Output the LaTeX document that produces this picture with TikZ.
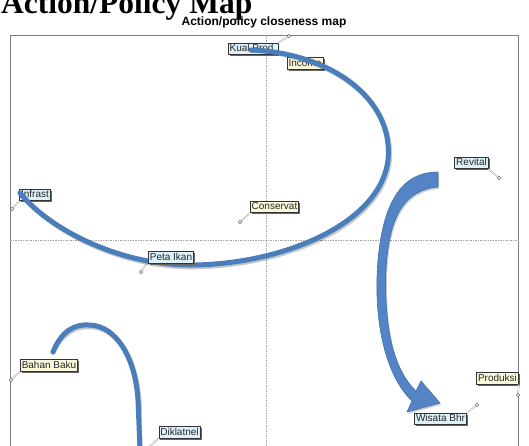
\documentclass[tikz,border=0pt]{standalone}
\usepackage{fontspec}
\setmainfont{Liberation Serif}
\setsansfont{Liberation Sans}
\usetikzlibrary{shadows}
\definecolor{curveblue}{HTML}{4A7EBB}
\definecolor{arrowblue}{HTML}{5584C6}
\definecolor{arrowedge}{HTML}{3F6FB0}
\definecolor{lblue}{HTML}{DDF1FB}
\definecolor{lyellow}{HTML}{FBF9DC}
\begin{document}
\begin{tikzpicture}[x=1pt,y=-1pt,
  lbl/.style={draw=black!80, line width=0.6pt, font=\fontsize{10}{10}\sffamily, text=black!85,
    inner xsep=1.5pt, inner ysep=1pt, text height=7.5pt, text depth=2pt,
    drop shadow={shadow xshift=1.6pt, shadow yshift=-1.6pt, fill=black!60, opacity=1}},
  bluelbl/.style={lbl, fill=lblue},
  yellowlbl/.style={lbl, fill=lyellow},
  marker/.style={circle, draw=black!60, fill=white, line width=0.6pt, inner sep=0pt, minimum size=3.5pt},
  leader/.style={draw=black!40, line width=0.4pt, double=white, double distance=0.7pt},
  curve/.style={draw=curveblue, line width=5pt, line cap=round},
  curveshadow/.style={draw=black, opacity=0.22, line width=5pt, line cap=round},
  gridline/.style={draw=black!35, line width=0.6pt, dash pattern=on 1.5pt off 1pt},
  frame/.style={draw=black!50, line width=0.8pt}
]
\clip (0,0) rectangle (529,445);
\fill[white] (0,0) rectangle (529,445);

% titles
\node[anchor=base west, font=\fontsize{31.5}{31.5}\selectfont\bfseries, inner sep=0pt] (title) at (1,13) {Action/Policy Map};
\node[anchor=base, font=\fontsize{12}{12}\sffamily\bfseries, inner sep=0pt] (subtitle) at (264,25) {Action/policy closeness map};

% frame and cross lines
\draw[frame] (10,35) rectangle (518,470);
\draw[gridline] (266,35) -- (266,470);
\draw[gridline] (10,240) -- (518,240);

% markers
\node[marker] (mkual) at (289,36) {};
\node[marker] (minfra) at (12,209) {};
\node[marker] (mcons) at (240,222) {};
\node[marker] (mpeta) at (141,272) {};
\node[marker] (mrevi) at (499,178) {};
\node[marker] (mprod) at (518,395) {};
\node[marker] (mwisa) at (477,405) {};
\node[marker] (mbaha) at (11,380) {};
\coordinate (mdikl) at (149,447);

% labels
\node[bluelbl] (kual) at (253,49) {Kual Prod.};
\node[yellowlbl] (income) at (305,63.5) {Income};
\node[bluelbl] (infra) at (35,195) {Infrast};
\node[yellowlbl] (cons) at (274.5,207) {Conservat};
\node[bluelbl] (revi) at (471.5,163) {Revital};
\node[yellowlbl] (prod) at (497.5,378.5) {Produksi};
\node[bluelbl] (wisa) at (440.5,419) {Wisata Bhr};
\node[yellowlbl] (baha) at (49,365.5) {Bahan Baku};
\node[bluelbl] (dikl) at (179.5,432.5) {Diklatnel};

% leaders
\draw[leader] (mkual) -- (kual.north east);
\draw[leader] (minfra) -- (infra.south west);
\draw[leader] (mcons) -- (cons.south west);
\draw[leader] (mpeta) -- (147,263);
\draw[leader] (mrevi) -- (revi.south east);
\draw[leader] (mprod) -- (prod.south east);
\draw[leader] (mwisa) -- (wisa.north east);
\draw[leader] (mbaha) -- (baha.south west);
\draw[leader] (mdikl) -- (dikl.south west);

% curve ends
\coordinate (c1s) at (251,50);
\coordinate (c1e) at (20,193);
\coordinate (c2s) at (53,352);
\coordinate (c2e) at (140,450);

% big loop
\draw[curveshadow, shift={(1.2,1.8)}] (c1s) .. controls (330,53) and (394,98) .. (388,160)
   .. controls (380,225) and (280,265) .. (190,265) .. controls (120,265) and (50,230) .. (c1e);
\draw[curve] (c1s) .. controls (330,53) and (394,98) .. (388,160)
   .. controls (380,225) and (280,265) .. (190,265) .. controls (120,265) and (50,230) .. (c1e);

% small hump
\draw[curveshadow, shift={(1.2,1.8)}] (c2s) .. controls (62,330) and (75,324) .. (90,325)
   .. controls (115,326) and (135,355) .. (138,400) -- (c2e);
\draw[curve] (c2s) .. controls (62,330) and (75,324) .. (90,325)
   .. controls (115,326) and (135,355) .. (138,400) -- (c2e);

% block arrow
\fill[black, opacity=0.18, shift={(1.2,1.8)}] (438,172) .. controls (400,172) and (383,205) .. (378,260)
   .. controls (373,320) and (385,375) .. (412,401) -- (407,412) -- (440,403) -- (421,381) -- (416,391)
   .. controls (394,370) and (384,330) .. (386,270) .. controls (389,215) and (405,190) .. (438,187) -- cycle;
\draw[fill=arrowblue, draw=arrowedge, line width=0.6pt, line join=round] (438,172) .. controls (400,172) and (383,205) .. (378,260)
   .. controls (373,320) and (385,375) .. (412,401) -- (407,412) -- (440,403) -- (421,381) -- (416,391)
   .. controls (394,370) and (384,330) .. (386,270) .. controls (389,215) and (405,190) .. (438,187) -- cycle;

% label drawn over the loop
\node[bluelbl] (peta) at (171,257.5) {Peta Ikan};
\end{tikzpicture}
\end{document}
